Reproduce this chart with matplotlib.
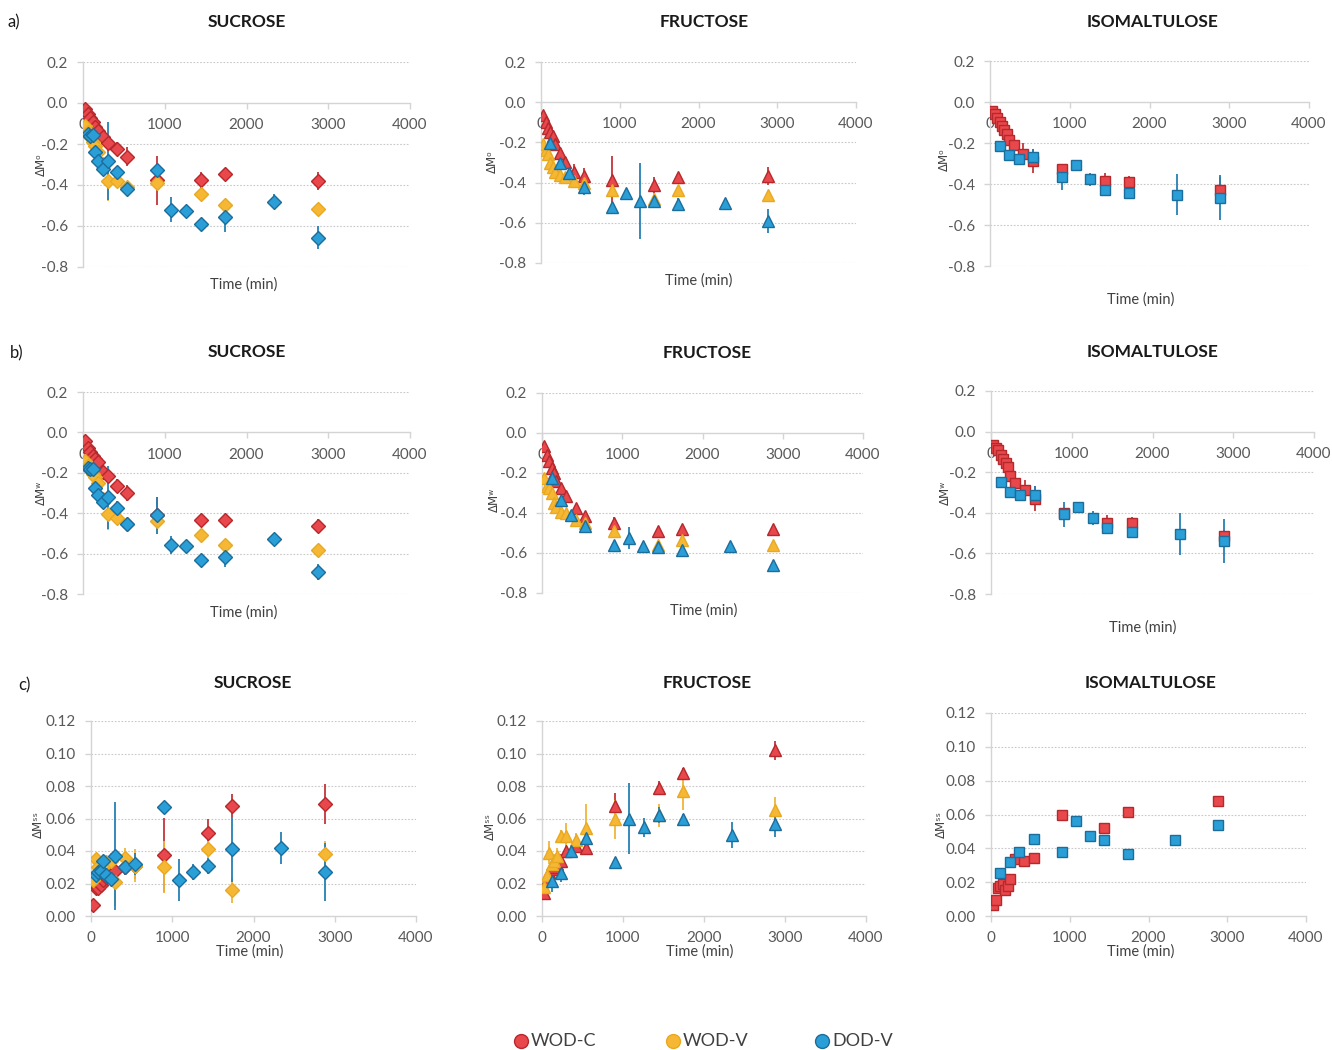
import matplotlib.pyplot as plt
from matplotlib.lines import Line2D

plt.rcParams['font.family'] = ['Lato', 'DejaVu Sans']
plt.rcParams['axes.unicode_minus'] = False

# sampling times (min)
t_wod = [30, 60, 90, 120, 150, 180, 240, 300, 420, 540, 900, 1440, 1740, 2880]
t_suc_dod = [60, 90, 120, 150, 180, 240, 300, 420, 540, 900, 1080, 1260, 1440, 1740, 2340, 2880]
t_fru_dod = [120, 240, 360, 540, 900, 1080, 1260, 1440, 1740, 2340, 2880]
t_iso_wod = [30, 60, 90, 120, 150, 180, 210, 240, 300, 420, 540, 900, 1440, 1740, 2880]
t_iso_dod = [120, 240, 360, 540, 900, 1080, 1260, 1440, 1740, 2340, 2880]

# ---- SUCROSE ----
suc_mo_wodc = [-0.03, -0.055, -0.075, -0.095, -0.115, -0.135, -0.168, -0.193, -0.225, -0.262, -0.378, -0.375, -0.347, -0.38]
suc_mo_wodc_sd = [0.01, 0.01, 0.01, 0.01, 0.01, 0.015, 0.02, 0.02, 0.035, 0.045, 0.12, 0.04, 0.02, 0.045]
suc_mo_wodv = [-0.11, -0.14, -0.165, -0.19, -0.21, -0.24, -0.30, -0.38, -0.38, -0.41, -0.388, -0.444, -0.498, -0.519]
suc_mo_wodv_sd = [0.01, 0.01, 0.01, 0.01, 0.015, 0.015, 0.02, 0.1, 0.02, 0.03, 0.03, 0.02, 0.03, 0.02]
suc_mo_dodv = [-0.152, -0.16, -0.155, -0.24, -0.282, -0.32, -0.284, -0.336, -0.419, -0.328, -0.52, -0.525, -0.59, -0.555, -0.481, -0.657]
suc_mo_dodv_sd = [0.01, 0.01, 0.015, 0.02, 0.02, 0.02, 0.19, 0.03, 0.03, 0.03, 0.06, 0.02, 0.015, 0.075, 0.035, 0.055]

suc_mw_wodc = [-0.043, -0.079, -0.099, -0.115, -0.13, -0.145, -0.194, -0.214, -0.263, -0.298, -0.41, -0.436, -0.433, -0.462]
suc_mw_wodc_sd = [0.01, 0.01, 0.01, 0.01, 0.01, 0.015, 0.02, 0.02, 0.03, 0.04, 0.09, 0.03, 0.02, 0.035]
suc_mw_wodv = [-0.141, -0.165, -0.183, -0.205, -0.219, -0.25, -0.33, -0.403, -0.424, -0.455, -0.441, -0.507, -0.556, -0.581]
suc_mw_wodv_sd = [0.01, 0.01, 0.01, 0.01, 0.015, 0.015, 0.02, 0.08, 0.02, 0.03, 0.06, 0.02, 0.03, 0.02]
suc_mw_dodv = [-0.178, -0.18, -0.181, -0.276, -0.309, -0.347, -0.322, -0.372, -0.454, -0.411, -0.556, -0.564, -0.633, -0.617, -0.528, -0.692]
suc_mw_dodv_sd = [0.01, 0.01, 0.015, 0.02, 0.02, 0.02, 0.155, 0.03, 0.03, 0.09, 0.045, 0.02, 0.015, 0.05, 0.02, 0.04]

suc_mss_wodc = [0.0068, 0.017, 0.0175, 0.019, 0.022, 0.024, 0.027, 0.028, 0.030, 0.031, 0.0375, 0.051, 0.068, 0.069]
suc_mss_wodc_sd = [0.001, 0.002, 0.002, 0.002, 0.003, 0.003, 0.004, 0.004, 0.005, 0.008, 0.023, 0.009, 0.007, 0.0125]
suc_mss_wodv = [0.022, 0.035, 0.030, 0.028, 0.030, 0.033, 0.034, 0.021, 0.036, 0.031, 0.030, 0.041, 0.016, 0.038]
suc_mss_wodv_sd = [0.003, 0.003, 0.003, 0.003, 0.003, 0.004, 0.005, 0.015, 0.006, 0.01, 0.016, 0.005, 0.008, 0.008]
suc_mss_dodv = [0.025, 0.027, 0.028, 0.034, 0.025, 0.023, 0.037, 0.030, 0.032, 0.067, 0.022, 0.027, 0.031, 0.041, 0.042, 0.027]
suc_mss_dodv_sd = [0.002, 0.002, 0.003, 0.003, 0.003, 0.004, 0.033, 0.005, 0.007, 0.002, 0.013, 0.005, 0.005, 0.02, 0.01, 0.018]

# ---- FRUCTOSE ----
fru_mo_wodc = [-0.064, -0.098, -0.13, -0.15, -0.17, -0.21, -0.255, -0.296, -0.345, -0.367, -0.387, -0.41, -0.37, -0.367]
fru_mo_wodc_sd = [0.01, 0.01, 0.01, 0.01, 0.01, 0.015, 0.02, 0.02, 0.04, 0.04, 0.12, 0.04, 0.015, 0.045]
fru_mo_wodv = [-0.21, -0.238, -0.26, -0.30, -0.32, -0.345, -0.36, -0.37, -0.39, -0.40, -0.436, -0.48, -0.436, -0.461]
fru_mo_wodv_sd = [0.01, 0.01, 0.01, 0.015, 0.015, 0.015, 0.02, 0.02, 0.02, 0.02, 0.03, 0.03, 0.02, 0.02]
fru_mo_dodv = [-0.205, -0.30, -0.354, -0.42, -0.519, -0.453, -0.49, -0.494, -0.508, -0.503, -0.593]
fru_mo_dodv_sd = [0.02, 0.02, 0.04, 0.04, 0.02, 0.02, 0.19, 0.03, 0.03, 0.02, 0.06]

fru_mw_wodc = [-0.067, -0.108, -0.142, -0.175, -0.20, -0.242, -0.275, -0.317, -0.375, -0.417, -0.45, -0.492, -0.48, -0.48]
fru_mw_wodc_sd = [0.01, 0.01, 0.01, 0.01, 0.01, 0.01, 0.015, 0.015, 0.02, 0.02, 0.03, 0.02, 0.015, 0.015]
fru_mw_wodv = [-0.225, -0.263, -0.275, -0.30, -0.35, -0.37, -0.397, -0.40, -0.433, -0.45, -0.492, -0.56, -0.533, -0.558]
fru_mw_wodv_sd = [0.01, 0.01, 0.01, 0.015, 0.015, 0.015, 0.02, 0.02, 0.02, 0.02, 0.03, 0.02, 0.02, 0.02]
fru_mw_dodv = [-0.225, -0.333, -0.408, -0.467, -0.558, -0.525, -0.563, -0.57, -0.583, -0.567, -0.658]
fru_mw_dodv_sd = [0.01, 0.01, 0.02, 0.03, 0.02, 0.055, 0.015, 0.015, 0.02, 0.015, 0.015]

fru_mss_wodc = [0.0144, 0.022, 0.027, 0.029, 0.030, 0.032, 0.034, 0.040, 0.043, 0.042, 0.068, 0.079, 0.088, 0.102]
fru_mss_wodc_sd = [0.002, 0.002, 0.003, 0.003, 0.003, 0.003, 0.004, 0.004, 0.004, 0.004, 0.008, 0.004, 0.003, 0.006]
fru_mss_wodv = [0.018, 0.025, 0.039, 0.032, 0.034, 0.037, 0.049, 0.049, 0.047, 0.054, 0.0595, 0.062, 0.077, 0.065]
fru_mss_wodv_sd = [0.002, 0.004, 0.007, 0.004, 0.004, 0.005, 0.004, 0.008, 0.004, 0.015, 0.012, 0.007, 0.012, 0.008]
fru_mss_dodv = [0.0217, 0.0267, 0.040, 0.048, 0.0334, 0.060, 0.0546, 0.062, 0.060, 0.050, 0.0564]
fru_mss_dodv_sd = [0.007, 0.006, 0.003, 0.003, 0.002, 0.022, 0.006, 0.005, 0.003, 0.008, 0.008]

# ---- ISOMALTULOSE ----
iso_mo_wodc = [-0.046, -0.057, -0.077, -0.098, -0.119, -0.138, -0.158, -0.187, -0.212, -0.252, -0.288, -0.326, -0.386, -0.392, -0.427]
iso_mo_wodc_sd = [0.005, 0.005, 0.005, 0.005, 0.005, 0.01, 0.01, 0.01, 0.015, 0.05, 0.06, 0.02, 0.04, 0.03, 0.06]
iso_mo_dodv = [-0.215, -0.26, -0.278, -0.269, -0.366, -0.308, -0.378, -0.428, -0.445, -0.453, -0.467]
iso_mo_dodv_sd = [0.01, 0.02, 0.015, 0.04, 0.065, 0.02, 0.03, 0.02, 0.015, 0.1, 0.11]

iso_mw_wodc = [-0.064, -0.079, -0.092, -0.116, -0.136, -0.157, -0.174, -0.218, -0.251, -0.289, -0.33, -0.40, -0.449, -0.452, -0.513]
iso_mw_wodc_sd = [0.005, 0.005, 0.005, 0.005, 0.005, 0.01, 0.01, 0.01, 0.015, 0.05, 0.06, 0.02, 0.04, 0.03, 0.03]
iso_mw_dodv = [-0.248, -0.297, -0.313, -0.31, -0.408, -0.37, -0.425, -0.474, -0.497, -0.505, -0.539]
iso_mw_dodv_sd = [0.01, 0.02, 0.015, 0.04, 0.06, 0.025, 0.035, 0.02, 0.015, 0.105, 0.11]

iso_mss_wodc = [0.0065, 0.0095, 0.0168, 0.0178, 0.019, 0.0154, 0.018, 0.0217, 0.0337, 0.0326, 0.034, 0.0598, 0.052, 0.0614, 0.0677]
iso_mss_wodc_sd = [0.001] * 15
iso_mss_dodv = [0.0253, 0.0322, 0.0377, 0.0456, 0.0377, 0.0564, 0.0472, 0.0452, 0.0365, 0.045, 0.0535]
iso_mss_dodv_sd = [0.001] * 11

series_names = ['WOD-C', 'WOD-V', 'DOD-V']
fills = {'WOD-C': '#E8474B', 'WOD-V': '#F6B834', 'DOD-V': '#2A9ED6'}
edges = {'WOD-C': '#B5282C', 'WOD-V': '#E9A821', 'DOD-V': '#1C6D9C'}
bars = {'WOD-C': '#C2363A', 'WOD-V': '#F0B53A', 'DOD-V': '#2680B4'}

W, H = 1332, 1050
fig = plt.figure(figsize=(W / 100, H / 100), dpi=100)
fig.patch.set_facecolor('white')


def px(x, y):
    return x / W, 1 - y / H


def panel(box, data, marker, ms, kind, ylabel, ylab_xy, title, title_xy, xlab_xy):
    x0, x1, ytop, ybot = box
    ax = fig.add_axes([x0 / W, 1 - ybot / H, (x1 - x0) / W, (ybot - ytop) / H])
    for name, t, y, sd in data:
        ax.errorbar(t, y, yerr=sd, fmt=marker, ms=ms, mfc=fills[name], mec=edges[name],
                    mew=1.0, ecolor=bars[name], elinewidth=1.3, capsize=0, zorder=3)
    ax.set_xlim(0, 4000)
    ax.set_xticks([0, 1000, 2000, 3000, 4000])
    if kind == 'change':
        ax.set_ylim(-0.8, 0.2)
        ticks = [-0.8, -0.6, -0.4, -0.2, 0.0, 0.2]
        ax.set_yticks(ticks)
        ax.set_yticklabels(['%.1f' % v for v in ticks])
        ax.spines['bottom'].set_position(('data', 0))
        grid_at = [v for v in ticks if v != 0.0]
    else:
        ax.set_ylim(0, 0.12)
        ticks = [0.0, 0.02, 0.04, 0.06, 0.08, 0.10, 0.12]
        ax.set_yticks(ticks)
        ax.set_yticklabels(['%.2f' % v for v in ticks])
        grid_at = ticks[1:]
    for g in grid_at:
        ax.axhline(g, color='#C8C8C8', lw=0.8, ls=(0, (1.5, 1.5)), zorder=0)
    for s in ('top', 'right'):
        ax.spines[s].set_visible(False)
    for s in ('left', 'bottom'):
        ax.spines[s].set_color('#D4D4D4')
        ax.spines[s].set_linewidth(1.0)
    ax.tick_params(axis='both', colors='#D4D4D4', labelcolor='#595959',
                   labelsize=11, length=4, width=1)
    ax.tick_params(axis='y', pad=7)
    ax.tick_params(axis='x', pad=7)
    ax.set_facecolor('none')
    fx, fy = px(*title_xy)
    fig.text(fx, fy, title, ha='center', va='center', fontsize=12.5, fontweight='bold', color='#1a1a1a')
    fx, fy = px(*xlab_xy)
    fig.text(fx, fy, 'Time (min)', ha='center', va='center', fontsize=10.5, color='#404040')
    fx, fy = px(*ylab_xy)
    fig.text(fx, fy, ylabel, ha='center', va='center', rotation=90, fontsize=8.5,
             color='#404040', family=['DejaVu Sans'])
    return ax


suc = 'SUCROSE'
fru = 'FRUCTOSE'
iso = 'ISOMALTULOSE'

# row a) ΔM°
panel((83, 410, 62, 267),
      [('WOD-C', t_wod, suc_mo_wodc, suc_mo_wodc_sd),
       ('WOD-V', t_wod, suc_mo_wodv, suc_mo_wodv_sd),
       ('DOD-V', t_suc_dod, suc_mo_dodv, suc_mo_dodv_sd)],
      'D', 7.5, 'change', 'ΔMᵒ', (41, 165), suc, (247, 22), (244, 285))
panel((541, 856, 62, 263),
      [('WOD-C', t_wod, fru_mo_wodc, fru_mo_wodc_sd),
       ('WOD-V', t_wod, fru_mo_wodv, fru_mo_wodv_sd),
       ('DOD-V', t_fru_dod, fru_mo_dodv, fru_mo_dodv_sd)],
      '^', 8.5, 'change', 'ΔMᵒ', (492, 162), fru, (704, 22), (699, 281))
panel((990, 1309, 61, 266),
      [('WOD-C', t_iso_wod, iso_mo_wodc, iso_mo_wodc_sd),
       ('DOD-V', t_iso_dod, iso_mo_dodv, iso_mo_dodv_sd)],
      's', 7, 'change', 'ΔMᵒ', (944, 160), iso, (1153, 22), (1141, 300))

# row b) ΔMʷ
panel((83, 410, 392, 594),
      [('WOD-C', t_wod, suc_mw_wodc, suc_mw_wodc_sd),
       ('WOD-V', t_wod, suc_mw_wodv, suc_mw_wodv_sd),
       ('DOD-V', t_suc_dod, suc_mw_dodv, suc_mw_dodv_sd)],
      'D', 7.5, 'change', 'ΔMʷ', (41, 493), suc, (247, 352), (244, 613))
panel((542, 863, 393, 593),
      [('WOD-C', t_wod, fru_mw_wodc, fru_mw_wodc_sd),
       ('WOD-V', t_wod, fru_mw_wodv, fru_mw_wodv_sd),
       ('DOD-V', t_fru_dod, fru_mw_dodv, fru_mw_dodv_sd)],
      '^', 8.5, 'change', 'ΔMʷ', (494, 500), fru, (707, 353), (704, 611))
panel((991, 1314, 391, 594),
      [('WOD-C', t_iso_wod, iso_mw_wodc, iso_mw_wodc_sd),
       ('DOD-V', t_iso_dod, iso_mw_dodv, iso_mw_dodv_sd)],
      's', 7, 'change', 'ΔMʷ', (945, 493), iso, (1153, 352), (1143, 628))

# row c) ΔMˢˢ
panel((91, 416, 721, 916),
      [('WOD-C', t_wod, suc_mss_wodc, suc_mss_wodc_sd),
       ('WOD-V', t_wod, suc_mss_wodv, suc_mss_wodv_sd),
       ('DOD-V', t_suc_dod, suc_mss_dodv, suc_mss_dodv_sd)],
      'D', 7.5, 'solids', 'ΔMˢˢ', (38, 825), suc, (253, 683), (250, 952))
panel((542, 866, 721, 916),
      [('WOD-C', t_wod, fru_mss_wodc, fru_mss_wodc_sd),
       ('WOD-V', t_wod, fru_mss_wodv, fru_mss_wodv_sd),
       ('DOD-V', t_fru_dod, fru_mss_dodv, fru_mss_dodv_sd)],
      '^', 8.5, 'solids', 'ΔMˢˢ', (490, 827), fru, (707, 683), (700, 952))
panel((991, 1306, 713, 916),
      [('WOD-C', t_iso_wod, iso_mss_wodc, iso_mss_wodc_sd),
       ('DOD-V', t_iso_dod, iso_mss_dodv, iso_mss_dodv_sd)],
      's', 7, 'solids', 'ΔMˢˢ', (941, 825), iso, (1151, 683), (1141, 952))

# row letters
for lab, (x, y) in zip(['a)', 'b)', 'c)'], [(8, 22), (10, 353), (18, 685)]):
    fx, fy = px(x, y)
    fig.text(fx, fy, lab, ha='left', va='center', fontsize=12, color='#1a1a1a')

# legend row along the bottom
legend_x = [521, 673, 822]
for name, lx in zip(series_names, legend_x):
    mx, my = px(lx, 1041)
    fig.add_artist(Line2D([mx], [my], transform=fig.transFigure, ls='none', marker='o',
                          ms=10, mfc=fills[name], mec=edges[name], mew=1.0))
    tx, ty = px(lx + 10, 1041)
    fig.text(tx, ty, name, ha='left', va='center', fontsize=13, color='#404040')

fig.savefig('out.png', dpi=100, facecolor='white')
